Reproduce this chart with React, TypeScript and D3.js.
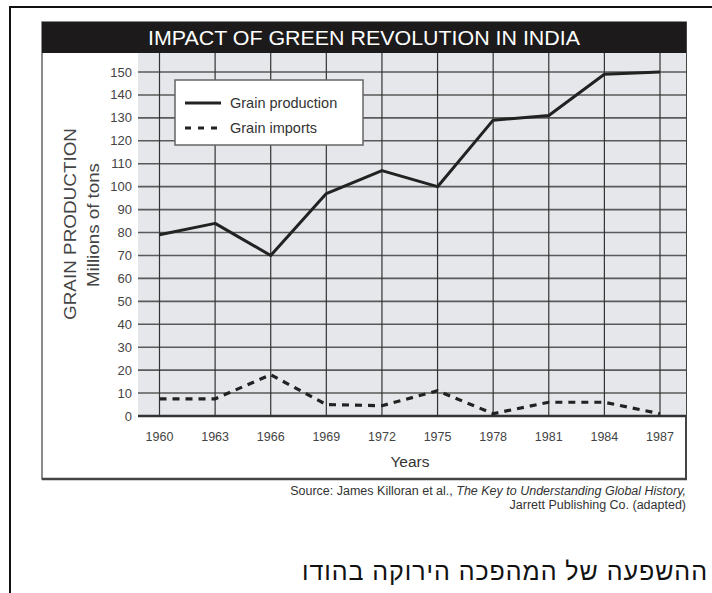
import React from "react";
import * as d3 from "d3";

const years = [1960, 1963, 1966, 1969, 1972, 1975, 1978, 1981, 1984, 1987];
const production = [79, 84, 70, 97, 107, 100, 129, 131, 149, 150];
const imports = [7.5, 7.5, 18, 5, 4.5, 11, 1, 6, 6, 1];
const yTicks = [0, 10, 20, 30, 40, 50, 60, 70, 80, 90, 100, 110, 120, 130, 140, 150];

const W = 712;
const H = 593;
const FONT = "'Liberation Sans', Arial, sans-serif";

// inner chart frame
const box = { left: 42, top: 22, right: 686, bottom: 479 };
const titleBottom = 53;
const plotLeft = 138;

const App: React.FC = () => {
  const x = d3.scaleLinear().domain([1960, 1987]).range([159.5, 660]);
  const y = d3.scaleLinear().domain([0, 150]).range([416, 72]);

  const line = d3
    .line<number>()
    .x((_, i) => x(years[i]))
    .y((d) => y(d));

  return (
    <div style={{ position: "absolute", left: 0, top: 0 }}>
      <svg width={W} height={H} style={{ display: "block", background: "#fff" }}>
        {/* outer page frame */}
        <line x1={9} x2={W} y1={7} y2={7} stroke="#111" strokeWidth={2} />
        <line x1={10} x2={10} y1={6} y2={H} stroke="#111" strokeWidth={2} />

        {/* chart frame */}
        <rect
          x={box.left}
          y={box.top}
          width={box.right - box.left}
          height={box.bottom - box.top}
          fill="#fff"
          stroke="#666"
          strokeWidth={1.5}
        />
        <line x1={box.left} x2={box.right + 1} y1={box.bottom} y2={box.bottom} stroke="#444" strokeWidth={2.5} />
        <line x1={box.right} x2={box.right} y1={box.top} y2={box.bottom} stroke="#444" strokeWidth={2} />

        {/* title bar */}
        <rect x={box.left} y={box.top} width={box.right - box.left} height={titleBottom - box.top} fill="#1c1a1a" />
        <text
          x={(box.left + box.right) / 2}
          y={45}
          textAnchor="middle"
          fill="#fff"
          fontFamily={FONT}
          fontSize={20.5}
          textLength={432}
          lengthAdjust="spacingAndGlyphs"
        >
          IMPACT OF GREEN REVOLUTION IN INDIA
        </text>

        {/* plot background */}
        <rect x={plotLeft} y={titleBottom} width={box.right - plotLeft} height={y(0) - titleBottom} fill="#e5e7eb" />

        {/* horizontal grid */}
        {yTicks.map((t) => (
          <g key={t}>
            <line
              x1={plotLeft}
              x2={box.right}
              y1={y(t)}
              y2={y(t)}
              stroke={t === 0 ? "#333" : "#5a5a5a"}
              strokeWidth={t === 0 ? 2.5 : 1.6}
            />
            <text
              x={132}
              y={y(t) + 4.5}
              textAnchor="end"
              fill="#444"
              fontFamily={FONT}
              fontSize={13}
            >
              {t}
            </text>
          </g>
        ))}

        {/* vertical grid */}
        {years.map((yr) => (
          <g key={yr}>
            <line x1={x(yr)} x2={x(yr)} y1={titleBottom} y2={y(0)} stroke="#333" strokeWidth={1.2} />
            <text x={x(yr)} y={441} textAnchor="middle" fill="#444" fontFamily={FONT} fontSize={12.5}>
              {yr}
            </text>
          </g>
        ))}

        {/* series */}
        <path d={line(production) || ""} fill="none" stroke="#222" strokeWidth={3} strokeLinejoin="round" />
        <path
          d={line(imports) || ""}
          fill="none"
          stroke="#222"
          strokeWidth={3.2}
          strokeDasharray="7,6"
        />

        {/* axis titles */}
        <text x={410} y={467} textAnchor="middle" fill="#333" fontFamily={FONT} fontSize={15.5}>
          Years
        </text>
        <text
          transform={`translate(76, 224) rotate(-90)`}
          textAnchor="middle"
          fill="#444"
          fontFamily={FONT}
          fontSize={17}
          textLength={192}
          lengthAdjust="spacingAndGlyphs"
        >
          GRAIN PRODUCTION
        </text>
        <text
          transform={`translate(99, 225) rotate(-90)`}
          textAnchor="middle"
          fill="#444"
          fontFamily={FONT}
          fontSize={16.5}
          textLength={124}
          lengthAdjust="spacingAndGlyphs"
        >
          Millions of tons
        </text>

        {/* legend */}
        <rect x={175} y={80} width={188} height={65} fill="#fff" stroke="#666" strokeWidth={1.5} />
        <line x1={185} x2={221} y1={103} y2={103} stroke="#222" strokeWidth={3.2} />
        <line x1={185} x2={223} y1={128} y2={128} stroke="#222" strokeWidth={3.2} strokeDasharray="6,7" />
        <text x={230} y={108} fill="#333" fontFamily={FONT} fontSize={14.5}>
          Grain production
        </text>
        <text x={230} y={133} fill="#333" fontFamily={FONT} fontSize={14.5}>
          Grain imports
        </text>

        {/* source */}
        <text x={686} y={495} textAnchor="end" fill="#333" fontFamily={FONT} fontSize={12.5}>
          Source: James Killoran et al., <tspan fontStyle="italic">The Key to Understanding Global History,</tspan>
        </text>
        <text x={686} y={509} textAnchor="end" fill="#333" fontFamily={FONT} fontSize={12.5}>
          Jarrett Publishing Co. (adapted)
        </text>

        {/* caption */}
        <text
          x={707}
          y={580}
          textAnchor="end"
          fill="#111"
          fontFamily={FONT}
          fontSize={25}
          textLength={405}
          lengthAdjust="spacing"
        >
          ההשפעה של המהפכה הירוקה בהודו
        </text>
      </svg>
    </div>
  );
};

export default App;
